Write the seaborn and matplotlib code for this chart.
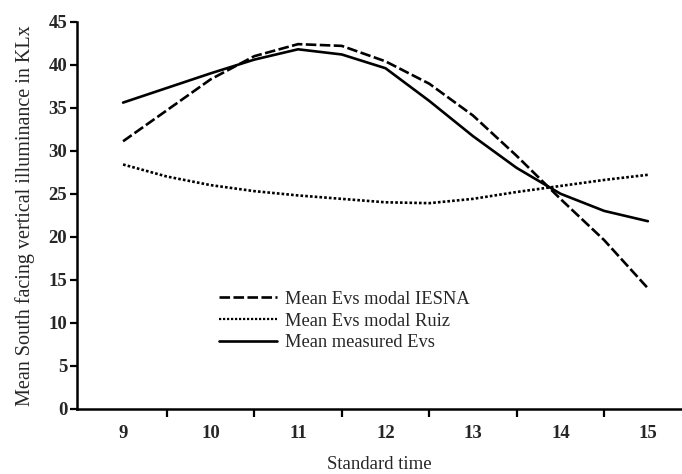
import numpy as np
import pandas as pd
import matplotlib
matplotlib.use("Agg")
import matplotlib.pyplot as plt
from matplotlib.ticker import FixedLocator
import seaborn as sns

# ── data ──────────────────────────────────────────────────────────────────
hours = [9, 9.5, 10, 10.5, 11, 11.5, 12, 12.5, 13, 13.5, 14, 14.5, 15]
iesna = [31.1, 34.7, 38.3, 41.0, 42.4, 42.2, 40.4, 37.8, 34.1, 29.4, 24.4, 19.6, 14.0]
ruiz = [28.4, 27.0, 26.0, 25.3, 24.8, 24.4, 24.0, 23.9, 24.4, 25.2, 25.9, 26.6, 27.2]
measured = [35.6, 37.3, 39.0, 40.6, 41.8, 41.2, 39.6, 35.8, 31.7, 28.0, 25.0, 23.0, 21.8]

series_names = ["Mean Evs modal IESNA", "Mean Evs modal Ruiz", "Mean measured Evs"]
x_ticks = [9, 10, 11, 12, 13, 14, 15]
y_ticks = [0, 5, 10, 15, 20, 25, 30, 35, 40, 45]

df = pd.DataFrame({
    "time": hours * 3,
    "value": iesna + ruiz + measured,
    "series": [series_names[0]] * len(hours)
              + [series_names[1]] * len(hours)
              + [series_names[2]] * len(hours),
})

# ── style ─────────────────────────────────────────────────────────────────
sns.set_theme(style="white")
plt.rcParams["font.family"] = ["Liberation Serif", "DejaVu Serif"]

fig = plt.figure(figsize=(6.82, 4.74), dpi=100)
ax = fig.add_axes([0.113, 0.138, 0.887, 0.816])

sns.lineplot(data=df, x="time", y="value", hue="series", style="series",
             palette=["black", "black", "black"],
             dashes={series_names[0]: (4, 1.3),
                     series_names[1]: (1, 0.8),
                     series_names[2]: ""},
             linewidth=1.9, ax=ax)
for ln in ax.lines:
    if ln.get_label() == series_names[1]:
        ln.set_linewidth(1.6)

ax.set_xlim(8.474, 15.39)
ax.set_ylim(0, 45)

# labels centred on the hours, tick marks between them
ax.xaxis.set_major_locator(FixedLocator(x_ticks))
ax.xaxis.set_minor_locator(FixedLocator([h + 0.5 for h in x_ticks[:-1]]))
ax.tick_params(axis="x", which="major", length=0, pad=12, labelsize=13.5)
ax.tick_params(axis="x", which="minor", bottom=True, direction="out",
               length=6, width=1.6, color="black")
ax.set_yticks(y_ticks)
ax.tick_params(axis="y", left=True, direction="out", length=5, width=1.6,
               color="black", pad=2, labelsize=13.5)
for lab in ax.get_xticklabels() + ax.get_yticklabels():
    lab.set_fontweight("bold")

sns.despine(ax=ax)
for side in ("left", "bottom"):
    ax.spines[side].set_linewidth(1.8)
    ax.spines[side].set_color("black")

ax.set_xlabel("Standard time", fontsize=13.5, labelpad=10)
ax.set_ylabel("Mean South facing vertical illuminance in KLx", fontsize=14.5,
              labelpad=10)

leg = ax.legend(loc="upper left", bbox_to_anchor=(0.22, 0.328), frameon=False,
                fontsize=13.3, handlelength=3.1, handletextpad=0.45,
                labelspacing=0.25, borderpad=0)
for h in leg.get_lines():
    h.set_color("black")

fig.savefig("out.png", dpi=100)
